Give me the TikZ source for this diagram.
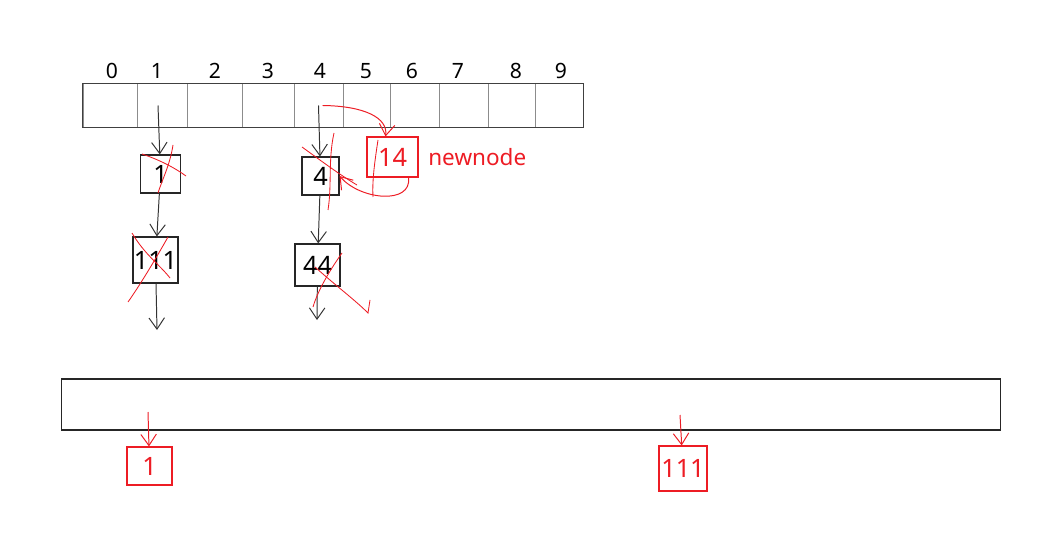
\documentclass[tikz,border=0pt]{standalone}
\usepackage{fontspec}
\setmainfont{Noto Sans}
\usetikzlibrary{arrows.meta,positioning}
\definecolor{inkred}{RGB}{237,28,36}
\definecolor{cellgray}{RGB}{140,140,140}

\begin{document}
\begin{tikzpicture}[
  x=0.025cm, y=-0.025cm,
  cell/.style={draw=cellgray, line width=0.7pt, inner sep=0pt, minimum height=1.075cm},
  idx/.style={font=\fontsize{15}{18}\selectfont},
  listnode/.style={draw=black!85, line width=0.8pt, inner sep=0pt,
                   font=\fontsize{18}{21}\selectfont},
  newbox/.style={draw=inkred, line width=0.8pt, inner sep=0pt, text=inkred,
                 font=\fontsize{18}{21}\selectfont},
  arr/.style={-{Straight Barb[length=8pt,width=11pt]}, line width=0.7pt, black!80},
  redarr/.style={-{Straight Barb[length=8pt,width=11pt]}, line width=0.7pt, inkred},
  scribble/.style={inkred, line width=0.6pt}
]
\useasboundingbox (0,0) rectangle (1064,544);
% bucket array with its indices
\foreach \i/\a/\b/\lx in {0/83/137/112,1/137/187/157,2/187/242/215,3/242/294/268,
    4/294/343/320,5/343/390/366,6/390/439/412,7/439/488/458,8/488/535/516,9/535/583/561}{
  \node[cell, minimum width={(\b-\a)*0.025cm}] (c\i) at ({(\a+\b)/2},105.5) {};
  \node[idx] (l\i) at (\lx,71) {\i};
}
\draw[black!75, line width=0.8pt] (c0.north west) rectangle (c9.south east);

% chains
\node[listnode, minimum width=1cm, minimum height=0.95cm] (n1) at (160.5,174) {1};
\node[listnode, minimum width=1.125cm, minimum height=1.15cm] (n111) at (155.5,260) {111};
\node[listnode, minimum width=0.925cm, minimum height=0.95cm] (n4) at (320.5,176) {4};
\node[listnode, minimum width=1.125cm, minimum height=1.05cm] (n44) at (317.5,265) {44};
\coordinate (e111) at (157,330);
\coordinate (e44) at (317,320);

\node[newbox, minimum width=1.275cm, minimum height=1cm] (nn) at (392.5,157) {14};
\node[text=inkred, font=\fontsize{16}{19}\selectfont, right=0.12cm of nn] (lbl) {newnode};

\draw[arr] ([xshift=-0.1cm]c1.center) -- (n1);
\draw[arr] (c4.center) -- (n4);
\foreach \a/\b in {n1/n111,n111/e111,n4/n44,n44/e44}
  \draw[arr] (\a) -- (\b);

\draw[redarr] ([xshift=0.1cm]c4.center) .. controls (365,106) and (388,118) .. ([xshift=-0.175cm]nn.north);
\draw[redarr] ([xshift=-0.25cm]nn.south east) .. controls (412,205) and (360,200) .. (n4.east);

% crossed out
\draw[scribble] (142,154) .. controls (160,160) and (175,168) .. (186,176);
\draw[scribble] (173,145) .. controls (170,165) and (162,180) .. (158,193);
\draw[scribble] (132,233) .. controls (145,255) and (160,265) .. (170,278);
\draw[scribble] (168,237) .. controls (155,260) and (140,285) .. (128,302);
\draw[scribble] (302,147) .. controls (320,160) and (340,175) .. (357,185);
\draw[scribble] (334,133) .. controls (328,160) and (332,185) .. (328,210);
\draw[scribble] (378,140) .. controls (375,160) and (372,180) .. (373,197);
\draw[scribble] (315,267) .. controls (335,285) and (355,300) .. (368,313) -- (370,300);
\draw[scribble] (342,253) .. controls (330,270) and (318,290) .. (313,307);

% second table
\node[draw=black!85, line width=0.8pt, inner sep=0pt, minimum width=23.45cm,
      minimum height=1.275cm] (tab) at (531,404.5) {};
\node[newbox, minimum width=1.125cm, minimum height=0.95cm] (r1) at (149.5,466) {1};
\node[newbox, minimum width=1.2cm, minimum height=1.125cm] (r111) at (683,468.5) {111};
\coordinate (t1) at (148,412);
\coordinate (t111) at (680,415);
\draw[redarr] (t1) -- (r1);
\draw[redarr] (t111) -- (r111);
\end{tikzpicture}
\end{document}
